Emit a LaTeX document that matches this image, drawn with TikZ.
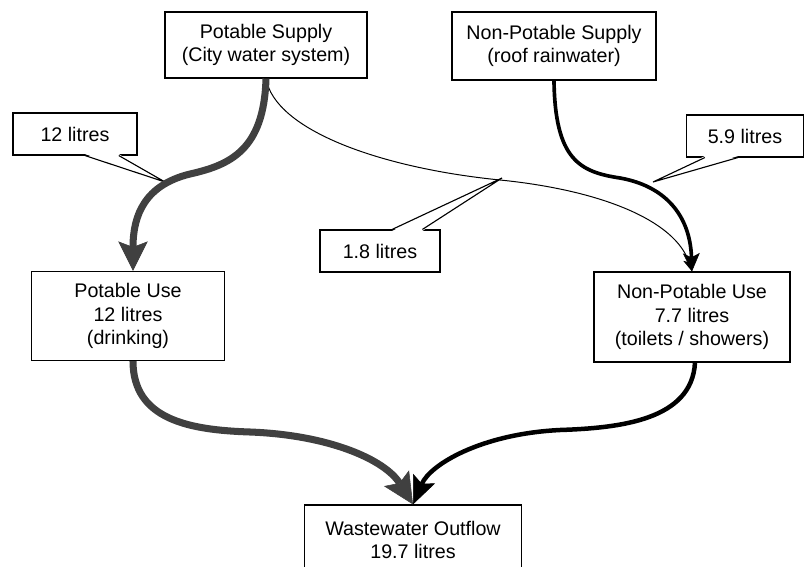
\documentclass[tikz,border=0pt]{standalone}
\usepackage{fontspec}
\setmainfont{Liberation Sans}
\usetikzlibrary{arrows.meta, calc}

\begin{document}
\begin{tikzpicture}[
        x=0.025cm, y=-0.025cm,
        font=\fontsize{14}{16.5}\selectfont,
        flowbox/.style={draw=black, line width=0.8pt, fill=white, align=center, inner sep=2pt},
        callout/.style={draw=black, line width=0.8pt, fill=white, align=center, minimum height=1.05cm},
        wedge/.style={draw=black, line width=0.8pt, line join=miter},
        potflow/.style={draw=black!75, line width=5pt},
        rainflow/.style={draw=black, line width=2.6pt},
        wasteflow/.style={draw=black, line width=3.2pt},
        thinflow/.style={draw=black, line width=0.7pt}
    ]
        \useasboundingbox (0,0) rectangle (805,567);

        % Supply boxes
        \node[flowbox, minimum width=5.05cm, minimum height=1.65cm] (sup) at (266,45) {Potable Supply\\(City water system)};
        \node[flowbox, minimum width=5.1cm, minimum height=1.7cm] (npsup) at (554,46) {Non-Potable Supply\\(roof rainwater)};

        % Use boxes
        \node[flowbox, minimum width=4.825cm, minimum height=2.225cm] (puse) at (128,316) {Potable Use\\12 litres\\(drinking)};
        \node[flowbox, minimum width=4.9cm, minimum height=2.25cm] (npuse) at (692,317) {Non-Potable Use\\7.7 litres\\(toilets / showers)};

        % Outflow (runs off the bottom edge)
        \node[flowbox, minimum width=5.425cm, minimum height=1.75cm] (ww) at (413,540) {Wastewater Outflow\\19.7 litres};

        % Callout labels
        \node[callout, minimum width=3.1cm] (lab12) at (75,134) {12 litres};
        \node[callout, minimum width=2.925cm] (lab59) at (745,136) {5.9 litres};
        \node[callout, minimum width=3.0cm] (lab18) at (380,251) {1.8 litres};

        \coordinate (tip12) at (165,182);
        \coordinate (tip59) at (653,182);
        \coordinate (tip18) at (502,178);

        \coordinate (a12) at ($(lab12.south west)!0.58!(lab12.south east)$);
        \coordinate (b12) at ($(lab12.south west)!0.85!(lab12.south east)$);
        \coordinate (a59) at ($(lab59.south west)!0.16!(lab59.south east)$);
        \coordinate (b59) at ($(lab59.south west)!0.44!(lab59.south east)$);
        \coordinate (a18) at ($(lab18.north west)!0.6!(lab18.north east)$);
        \coordinate (b18) at ($(lab18.north west)!0.85!(lab18.north east)$);

        % Callout pointers
        \fill[white] ($(a12)+(0,-1.5)$) -- (tip12) -- ($(b12)+(0,-1.5)$) -- cycle;
        \draw[wedge] (a12) -- (tip12) -- (b12);
        \fill[white] ($(a59)+(0,-1.5)$) -- (tip59) -- ($(b59)+(0,-1.5)$) -- cycle;
        \draw[wedge] (a59) -- (tip59) -- (b59);
        \fill[white] ($(a18)+(0,1.5)$) -- (tip18) -- ($(b18)+(0,1.5)$) -- cycle;
        \draw[wedge] (a18) -- (tip18) -- (b18);

        % Supply flows
        \draw[thinflow, -{Stealth[length=9pt, width=7pt, inset=2pt]}] (sup.south) .. controls (275,130) and (380,168) .. (500,180) .. controls (600,190) and (675,220) .. (npuse.north);
        \draw[rainflow, -{Stealth[length=13pt, width=12pt, inset=3pt, line width=0.4pt]}] (npsup.south) .. controls (555,160) and (580,172) .. (620,178) .. controls (665,186) and (690,215) .. (npuse.north);
        \draw[potflow, -{Stealth[length=21pt, width=21pt, inset=4pt, line width=0.4pt, fill=black!75]}] (sup.south) .. controls (264,150) and (230,165) .. (190,174) .. controls (145,185) and (133,215) .. ($(puse.north)+(5,0)$);

        % Outflows
        \draw[potflow, -{Stealth[length=22pt, width=21pt, inset=4pt, line width=0.4pt, fill=black!75]}] ($(puse.south)+(5,0)$) .. controls (133,420) and (190,430) .. (250,432) .. controls (330,435) and (385,460) .. (ww.north);
        \draw[wasteflow, -{Stealth[length=20pt, width=17pt, inset=4pt, line width=0.4pt]}] ($(npuse.south)+(3,0)$) .. controls (692,420) and (620,428) .. (560,430) .. controls (480,434) and (430,465) .. (ww.north);

    \end{tikzpicture}
\end{document}
